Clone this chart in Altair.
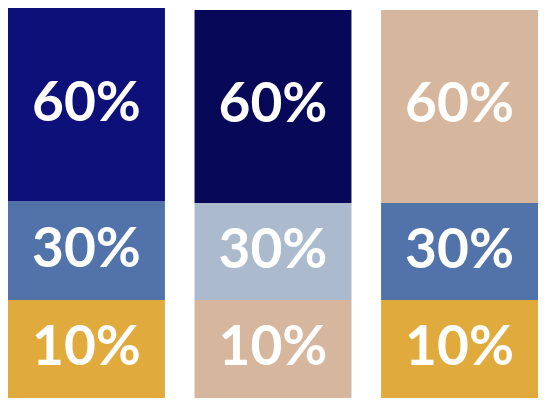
import altair as alt
import pandas as pd

# Data
bars = ["A", "B", "C"]
labels = ["10%", "30%", "60%"]            # bottom to top
# drawn segment heights (as measured in the picture, bottom to top)
seg_a = [101, 102, 199]
seg_b = [101, 100, 199]
seg_c = [101, 100, 199]
colors_a = ["#e0ab3c", "#5273aa", "#0d1078"]
colors_b = ["#d6b69c", "#abbacc", "#070958"]
colors_c = ["#e0ab3c", "#5273aa", "#d6b69c"]

rows = []
for bar, segs, cols in [("A", seg_a, colors_a), ("B", seg_b, colors_b), ("C", seg_c, colors_c)]:
    start = 0
    for lab, s, c in zip(labels, segs, cols):
        rows.append({"bar": bar, "label": lab, "y0": start, "y1": start + s,
                     "mid": start + s / 2, "color": c})
        start += s
df = pd.DataFrame(rows)

x = alt.X("bar:N", axis=None, sort=bars,
          scale=alt.Scale(paddingInner=0.1587, paddingOuter=0.0))
yscale = alt.Scale(domain=[0, 402], nice=False, zero=True)

rects = alt.Chart(df).mark_bar(clip=True, cornerRadius=0).encode(
    x=x,
    y=alt.Y("y0:Q", axis=None, scale=yscale),
    y2="y1:Q",
    color=alt.Color("color:N", scale=None),
)

text = alt.Chart(df).mark_text(
    font="Lato", fontWeight="bold", fontSize=55, color="white",
    baseline="middle", align="center", dy=-1,
).encode(
    x=x,
    y=alt.Y("mid:Q", axis=None, scale=yscale),
    text="label:N",
)

chart = (rects + text).properties(
    width=530, height=390, padding=0,
).configure_view(stroke=None)

chart.save("out.html", embed_options={"renderer": "svg", "actions": False})
